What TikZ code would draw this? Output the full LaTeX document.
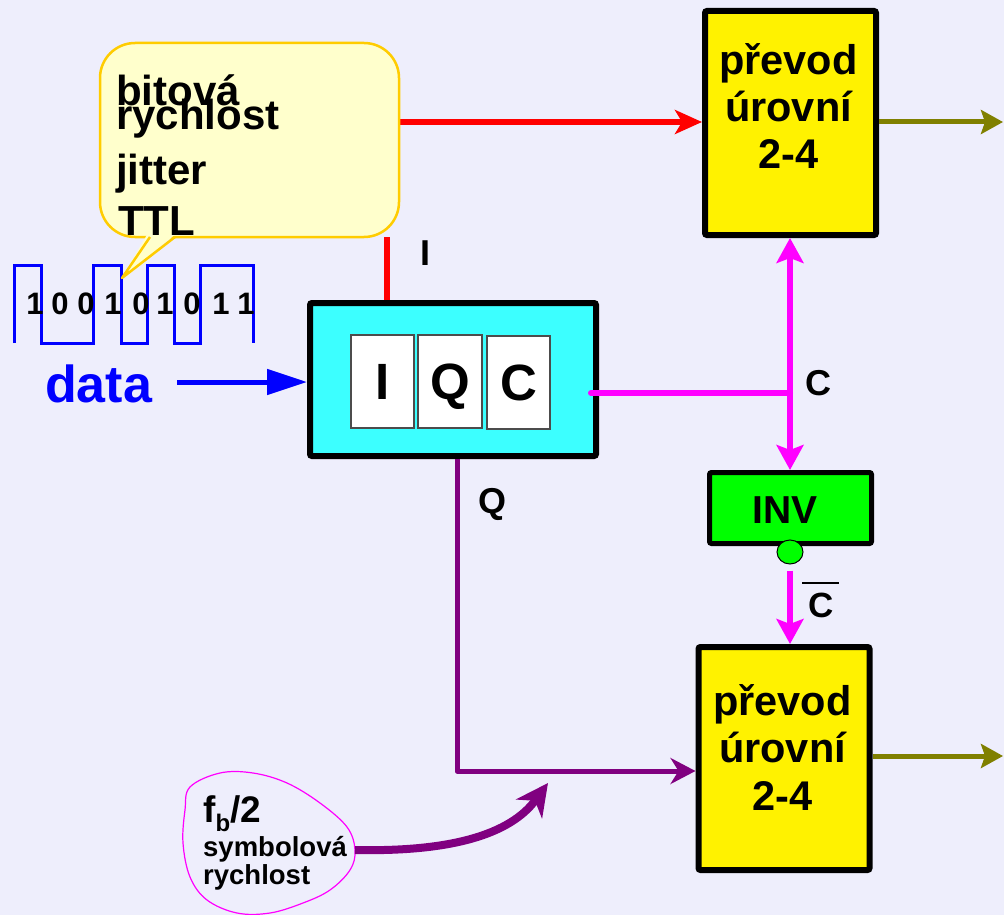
\documentclass[tikz,border=0pt]{standalone}
\usepackage{fontspec}
\setmainfont{Liberation Sans}
\usetikzlibrary{arrows.meta,shapes.geometric}
\definecolor{bg}{RGB}{238,238,252}
\definecolor{cyanbox}{RGB}{60,255,255}
\definecolor{callfill}{RGB}{255,255,204}
\definecolor{callborder}{RGB}{255,204,0}
\definecolor{purp}{RGB}{128,0,128}
\definecolor{olivec}{RGB}{128,128,0}
\definecolor{magc}{RGB}{255,0,255}
\definecolor{greenc}{RGB}{0,255,0}
\newcommand\myfs[1]{\fontsize{#1}{#1}\selectfont\bfseries}
\tikzset{magtip/.tip={Stealth[length=25pt,width=27pt,inset=5pt]}}
\begin{document}
\begin{tikzpicture}[x=1pt,y=-1pt,
  thickbox/.style={draw=black, line width=6pt, rounded corners=2pt, inner sep=0pt},
  lvlbox/.style={thickbox, fill=yellow, minimum width=171pt, minimum height=224pt},
  lvltxt/.style={font=\myfs{41.5}, inner sep=0pt, anchor=base},
  lab/.style={font=\myfs{36}, inner sep=0pt, anchor=base},
  cell/.style={draw=black!70, line width=1.2pt, fill=white, minimum width=63pt, minimum height=93pt, inner sep=0pt, font=\myfs{51}, text height=36pt, text depth=0pt},
  digit/.style={font=\myfs{31}, inner sep=0pt, anchor=base},
  calltxt/.style={font=\myfs{42}, inner sep=0pt, anchor=base west},
  magarrow/.style={magc, line width=6pt},
  olivearrow/.style={olivec, line width=5pt, -{Stealth[length=22pt,width=24pt,inset=4pt]}},
]
\useasboundingbox (0,0) rectangle (1004,915);
\fill[bg] (0,0) rectangle (1004,915);

% square wave
\draw[blue, line width=3pt, line join=miter] (14,343) -- (14,265) -- (41,265) -- (41,343) -- (93,343) -- (93,265) -- (121,265) -- (121,343) -- (147,343) -- (147,265) -- (174,265) -- (174,343) -- (200,343) -- (200,265) -- (253,265) -- (253,343);
\foreach \x/\d [count=\i] in {35/1,60/0,86/0,113/1,141/0,165/1,192/0,221/1,246/1}
  \node[digit] (dg\i) at (\x,314) {\d};

% blocks
\node[lvlbox] (top) at (790.5,123) {};
\node[lvlbox, minimum height=223pt] (bot) at (784,758.5) {};
\node[thickbox, fill=cyanbox, minimum width=286pt, minimum height=153pt] (iqc) at (453,379.5) {};
\node[cell] (ci) at (382.5,381.5) {I};
\node[cell, minimum width=64pt] (cq) at (450,381.5) {Q};
\node[cell] (cc) at (518.5,382.5) {C};
\node[thickbox, line width=5pt, fill=greenc, minimum width=162pt, minimum height=71pt] (inv) at (790.5,508) {};
\node[lab, font=\myfs{39}] (invt) at (785,523) {INV};
\node[draw=black, line width=1pt, fill=greenc, ellipse, minimum width=26pt, minimum height=24pt, inner sep=0pt] (bub) at (790,552) {};

% block texts
\node[lvltxt] (t1) at (788.5,75) {převod};
\node[lvltxt] (t2) at (788.5,122) {úrovní};
\node[lvltxt] (t3) at (788.5,168) {2-4};
\node[lvltxt] (b1) at (782.5,715) {převod};
\node[lvltxt] (b2) at (782.5,762) {úrovní};
\node[lvltxt] (b3) at (782.5,810) {2-4};

% coordinates
\coordinate (cR) at (399,122);
\coordinate (cB) at (387,237);
\coordinate (jC) at (790,393);
\coordinate (qC) at (457,771);
\coordinate (dS) at (177,382);
\coordinate (outT) at (1003,122);
\coordinate (outB) at (1003,756);
\coordinate (fb) at (355,850);
\coordinate (fbtip) at (548,783);

% red connectors
\draw[red, line width=6pt, -{Stealth[length=27pt,width=24pt,inset=7pt]}] (cR) -- (cR -| top.west);
\draw[red, line width=6pt] (cB) -- (cB |- iqc.north);
% magenta
\draw[magarrow, line cap=round] (jC -| iqc.east) ++(-8,0) -- (jC);
\draw[magarrow, magtip-magtip] (top.south -| jC) -- (inv.north -| jC);
\draw[magarrow, -magtip] (bub.south) ++(0,6) -- (bot.north -| bub);
% purple Q
\draw[purp, line width=5pt, line join=round, -{Stealth[length=25pt,width=26pt,inset=8pt]}] (iqc.south -| qC) -- (qC) -- (qC -| bot.west);
% olive outputs
\draw[olivearrow] (top.east |- outT) -- (outT);
\draw[olivearrow] (bot.east |- outB) -- (outB);
% data
\node[font=\myfs{52}, text=blue, inner sep=0pt, anchor=base] (data) at (98.5,402) {data};
\draw[blue, line width=5pt, -{Triangle[length=40pt,width=25pt]}] (dS) -- (dS -| iqc.west);

% labels
\node[lab] (lI) at (425,265) {I};
\node[lab] (lQ) at (492,513) {Q};
\node[lab] (lC) at (818.5,395) {C};
\node[lab, font=\myfs{35}] (lCb) at (821,617) {C};
\draw[black, line width=2.5pt] (802,583) -- (839,583);

% callout
\draw[draw=callborder, fill=callfill, line width=2.5pt, rounded corners=35pt] (100,43) rectangle (399,237);
\fill[callfill] (148,233) -- (122,278) -- (177,233) -- cycle;
\draw[callborder, line width=2.5pt, line join=round] (150,237) -- (122,278) -- (175,237);
\node[calltxt] (c1) at (116,106) {bitová};
\node[calltxt] (c2) at (116,130) {rychlost};
\node[calltxt] (c3) at (116,185) {jitter};
\node[calltxt] (c4) at (118,235) {TTL};

% f_b/2 blob
\draw[magc, line width=1.2pt] plot[smooth cycle, tension=0.6] coordinates {(190,787) (220,773) (253,773) (287,783) (320,803) (347,827) (355,850) (350,870) (330,890) (303,903) (270,913) (237,913) (207,900) (190,877) (183,843) (185,810)};
\node[inner sep=0pt, anchor=base west, font=\myfs{37}] (fbt) at (203,822) {f\raisebox{-9pt}{\myfs{24}b}/2};
\node[inner sep=0pt, anchor=base west, font=\myfs{27.5}] (fbs) at (203,856) {symbolová};
\node[inner sep=0pt, anchor=base west, font=\myfs{27.5}] (fbr) at (203,884) {rychlost};
\draw[purp, line width=8pt, -{Stealth[length=32pt,width=32pt,inset=10pt]}] (fb) .. controls (450,852) and (510,835) .. (fbtip);
\end{tikzpicture}
\end{document}
